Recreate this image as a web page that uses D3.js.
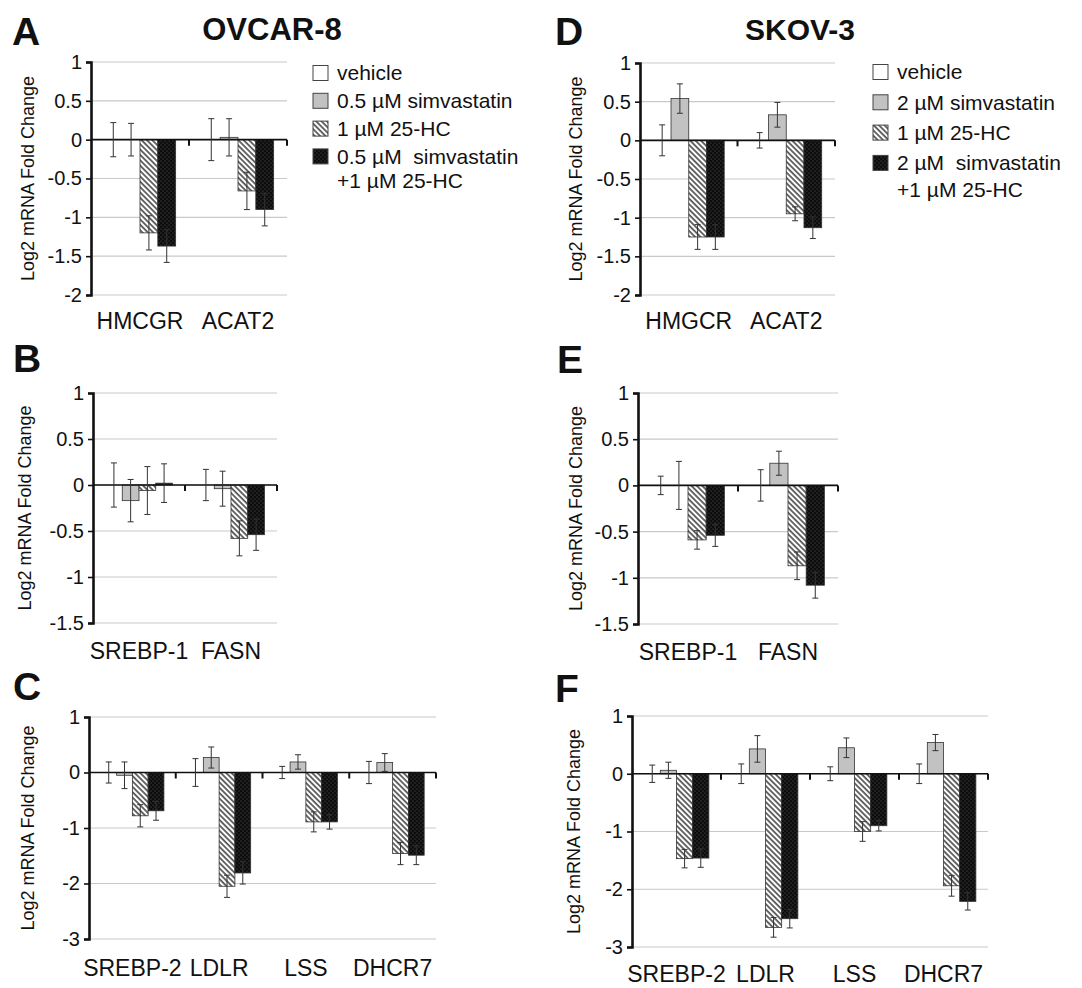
<!DOCTYPE html>
<html>
<head>
<meta charset="utf-8">
<script src="https://cdn.jsdelivr.net/npm/d3@7"></script>
<style>
body { margin: 0; background: #fff; }
svg text { font-family: "Liberation Sans", Arial, sans-serif; fill: #111; }
</style>
</head>
<body>
<div id="chart"></div>
<script>
"use strict";

// tick labels
var ticksAD = [1, 0.5, 0, -0.5, -1, -1.5, -2];
var ticksBE = [1, 0.5, 0, -0.5, -1, -1.5];
var ticksCF = [1, 0, -1, -2, -3];

// categories
var genesA = ["HMCGR", "ACAT2"];
var genesD = ["HMGCR", "ACAT2"];
var genesBE = ["SREBP-1", "FASN"];
var genesCF = ["SREBP-2", "LDLR", "LSS", "DHCR7"];

// legend texts
var legendOvcar = ["vehicle", "0.5 µM simvastatin", "1 µM 25-HC", "0.5 µM  simvastatin", "+1 µM 25-HC"];
var legendSkov = ["vehicle", "2 µM simvastatin", "1 µM 25-HC", "2 µM  simvastatin", "+1 µM 25-HC"];

// series order: vehicle, simvastatin, 25-HC, simvastatin + 25-HC
// OVCAR-8
var meanA = [[0, 0], [0, 0.03], [-1.20, -0.66], [-1.37, -0.90]];
var errA  = [[0.22, 0.27], [0.21, 0.24], [0.22, 0.24], [0.21, 0.21]];
var meanB = [[0, 0], [-0.17, -0.04], [-0.06, -0.58], [0.02, -0.54]];
var errB  = [[0.24, 0.17], [0.23, 0.19], [0.26, 0.19], [0.21, 0.17]];
var meanC = [[0, 0, 0, 0], [-0.05, 0.27, 0.19, 0.18], [-0.78, -2.05, -0.89, -1.46], [-0.69, -1.81, -0.89, -1.49]];
var errC  = [[0.19, 0.25, 0.11, 0.20], [0.24, 0.19, 0.13, 0.16], [0.20, 0.20, 0.18, 0.20], [0.17, 0.20, 0.13, 0.17]];
// SKOV-3
var meanD = [[0, 0], [0.54, 0.33], [-1.25, -0.95], [-1.25, -1.13]];
var errD  = [[0.20, 0.10], [0.19, 0.16], [0.16, 0.09], [0.16, 0.14]];
var meanE = [[0, 0], [0, 0.24], [-0.59, -0.87], [-0.54, -1.08]];
var errE  = [[0.10, 0.17], [0.26, 0.13], [0.10, 0.15], [0.12, 0.14]];
var meanF = [[0, 0, 0, 0], [0.06, 0.43, 0.45, 0.54], [-1.47, -2.66, -1.00, -1.94], [-1.46, -2.51, -0.90, -2.21]];
var errF  = [[0.15, 0.17, 0.12, 0.17], [0.14, 0.23, 0.17, 0.14], [0.16, 0.17, 0.17, 0.18], [0.16, 0.16, 0.09, 0.15]];

var fills = ["#ffffff", "#c2c2c2", "url(#hatch)", "url(#dots)"];

var w = 1082;
var h = 988;

var svg = d3.select("#chart")
            .append("svg")
            .attr("width", w)
            .attr("height", h);

// fill patterns for the 25-HC and combination bars
var defs = svg.append("defs");
var hatch = defs.append("pattern")
    .attr("id", "hatch")
    .attr("patternUnits", "userSpaceOnUse")
    .attr("width", 3.8).attr("height", 3.8)
    .attr("patternTransform", "rotate(-45)");
hatch.append("rect").attr("width", 3.8).attr("height", 3.8).attr("fill", "#fff");
hatch.append("line").attr("x1", 1).attr("y1", -1).attr("x2", 1).attr("y2", 5)
    .attr("stroke", "#1a1a1a").attr("stroke-width", 1.3);

var dots = defs.append("pattern")
    .attr("id", "dots")
    .attr("patternUnits", "userSpaceOnUse")
    .attr("width", 4).attr("height", 4);
dots.append("rect").attr("width", 4).attr("height", 4).attr("fill", "#0d0d0d");
dots.append("circle").attr("cx", 1).attr("cy", 1).attr("r", 0.6).attr("fill", "#5a5a5a");
dots.append("circle").attr("cx", 3).attr("cy", 3).attr("r", 0.6).attr("fill", "#5a5a5a");

function drawPanel(p) {
    var g = svg.append("g");

    var y = d3.scaleLinear()
              .domain([p.ticks[p.ticks.length - 1], p.ticks[0]])
              .range([p.bottom, p.top]);

    var x0 = d3.scaleBand()
               .domain(p.cats)
               .range([p.left, p.right])
               .padding(0);

    var x1 = d3.scaleBand()
               .domain([0, 1, 2, 3])
               .range([0, x0.bandwidth()])
               .paddingInner(0)
               .paddingOuter(0.75);

    // grid lines
    g.selectAll(".grid")
     .data(p.ticks)
     .enter()
     .append("line")
     .attr("x1", p.left).attr("x2", p.right)
     .attr("y1", function(d){ return y(d); })
     .attr("y2", function(d){ return y(d); })
     .attr("stroke", "#c9c9c9")
     .attr("stroke-width", 1.2);

    // flatten the series into bars
    var bars = [];
    p.mean.forEach(function(row, s){
        row.forEach(function(v, c){
            bars.push({s: s, c: p.cats[c], v: v, e: p.err[s][c]});
        });
    });

    g.selectAll(".bar")
     .data(bars)
     .enter()
     .append("rect")
     .attr("x", function(d){ return x0(d.c) + x1(d.s); })
     .attr("y", function(d){ return y(Math.max(0, d.v)); })
     .attr("width", x1.bandwidth())
     .attr("height", function(d){ return Math.abs(y(d.v) - y(0)); })
     .attr("fill", function(d){ return fills[d.s]; })
     .attr("stroke", "#333")
     .attr("stroke-width", 0.8);

    // x axis at zero with ticks on the category borders
    g.append("line")
     .attr("x1", p.left).attr("x2", p.right)
     .attr("y1", y(0)).attr("y2", y(0))
     .attr("stroke", "#111").attr("stroke-width", 1.6);

    g.selectAll(".xtick")
     .data(p.cats)
     .enter()
     .append("line")
     .attr("x1", function(d){ return x0(d) + x0.bandwidth(); })
     .attr("x2", function(d){ return x0(d) + x0.bandwidth(); })
     .attr("y1", y(0))
     .attr("y2", y(0) + 6)
     .attr("stroke", "#111")
     .attr("stroke-width", 2);

    // error bars
    var eb = g.selectAll(".err")
              .data(bars)
              .enter()
              .append("g")
              .attr("stroke", "#333")
              .attr("stroke-width", 1);
    var cx = function(d){ return x0(d.c) + x1(d.s) + x1.bandwidth() / 2; };
    eb.append("line")
      .attr("x1", cx).attr("x2", cx)
      .attr("y1", function(d){ return y(d.v + d.e); })
      .attr("y2", function(d){ return y(d.v - d.e); });
    eb.append("line")
      .attr("x1", function(d){ return cx(d) - 3; })
      .attr("x2", function(d){ return cx(d) + 3; })
      .attr("y1", function(d){ return y(d.v + d.e); })
      .attr("y2", function(d){ return y(d.v + d.e); });
    eb.append("line")
      .attr("x1", function(d){ return cx(d) - 3; })
      .attr("x2", function(d){ return cx(d) + 3; })
      .attr("y1", function(d){ return y(d.v - d.e); })
      .attr("y2", function(d){ return y(d.v - d.e); });

    // y axis
    var yAxis = d3.axisLeft(y)
                  .tickValues(p.ticks)
                  .tickSize(5)
                  .tickPadding(4)
                  .tickFormat(function(d){ return String(d); });
    var ya = g.append("g")
              .attr("transform", "translate(" + p.left + ",0)")
              .call(yAxis);
    ya.select(".domain").attr("stroke", "#111").attr("stroke-width", 2.6);
    ya.selectAll(".tick line").attr("stroke", "#111").attr("stroke-width", 1.6);
    ya.selectAll(".tick text")
      .attr("font-size", 20)
      .attr("fill", "#111")
      .attr("font-family", "Liberation Sans, Arial, sans-serif");

    // category labels
    g.selectAll(".cat")
     .data(p.cats)
     .enter()
     .append("text")
     .attr("x", function(d){ return x0(d) + x0.bandwidth() / 2; })
     .attr("y", p.catY)
     .attr("text-anchor", "middle")
     .attr("font-size", 23)
     .text(function(d){ return d; });

    // y title
    g.append("text")
     .attr("transform", "translate(" + p.labelX + "," + ((p.top + p.bottom) / 2) + ") rotate(-90)")
     .attr("text-anchor", "middle")
     .attr("dy", "0.35em")
     .attr("font-size", 18)
     .text("Log2 mRNA Fold Change");

    // panel letter
    g.append("text")
     .attr("x", p.letterX)
     .attr("y", p.letterY)
     .attr("font-size", 39)
     .attr("font-weight", "bold")
     .text(p.letter);
}

function drawLegend(items, lx, ly, step) {
    var g = svg.append("g");
    var rows = items.slice(0, 4);
    g.selectAll("rect")
     .data(rows)
     .enter()
     .append("rect")
     .attr("x", lx)
     .attr("y", function(d, i){ return ly + i * step - 7.5; })
     .attr("width", 15)
     .attr("height", 15)
     .attr("fill", function(d, i){ return fills[i]; })
     .attr("stroke", "#444")
     .attr("stroke-width", 1);
    g.selectAll("text")
     .data(items)
     .enter()
     .append("text")
     .attr("x", lx + 24)
     .attr("y", function(d, i){ return ly + (i < 4 ? i * step : 3 * step + step * 0.88); })
     .attr("dy", "0.35em")
     .attr("font-size", 21)
     .style("white-space", "pre")
     .text(function(d){ return d; });
}

function init() {
    var panels = [
        {letter: "A", cats: genesA, mean: meanA, err: errA, ticks: ticksAD,
         left: 91, right: 287, top: 62, bottom: 295, catY: 329, labelX: 28, letterX: 12, letterY: 45},
        {letter: "B", cats: genesBE, mean: meanB, err: errB, ticks: ticksBE,
         left: 93, right: 277, top: 393, bottom: 623, catY: 659, labelX: 25, letterX: 13, letterY: 372},
        {letter: "C", cats: genesCF, mean: meanC, err: errC, ticks: ticksCF,
         left: 89, right: 436, top: 717, bottom: 939, catY: 976, labelX: 28, letterX: 13, letterY: 700},
        {letter: "D", cats: genesD, mean: meanD, err: errD, ticks: ticksAD,
         left: 640, right: 835, top: 63, bottom: 295, catY: 329, labelX: 576, letterX: 555, letterY: 45},
        {letter: "E", cats: genesBE, mean: meanE, err: errE, ticks: ticksBE,
         left: 638, right: 838, top: 393, bottom: 624, catY: 660, labelX: 576, letterX: 557, letterY: 373},
        {letter: "F", cats: genesCF, mean: meanF, err: errF, ticks: ticksCF,
         left: 632, right: 988, top: 716, bottom: 947, catY: 982, labelX: 574, letterX: 555, letterY: 702}
    ];
    panels.forEach(drawPanel);

    drawLegend(legendOvcar, 313, 73, 27.8);
    drawLegend(legendSkov, 873, 72, 30.3);

    svg.append("text").attr("x", 272).attr("y", 40).attr("text-anchor", "middle")
       .attr("font-size", 31).attr("font-weight", "bold").text("OVCAR-8");
    svg.append("text").attr("x", 800).attr("y", 40).attr("text-anchor", "middle")
       .attr("font-size", 30).attr("font-weight", "bold").text("SKOV-3");
}

window.onload = init;
</script>
</body>
</html>
